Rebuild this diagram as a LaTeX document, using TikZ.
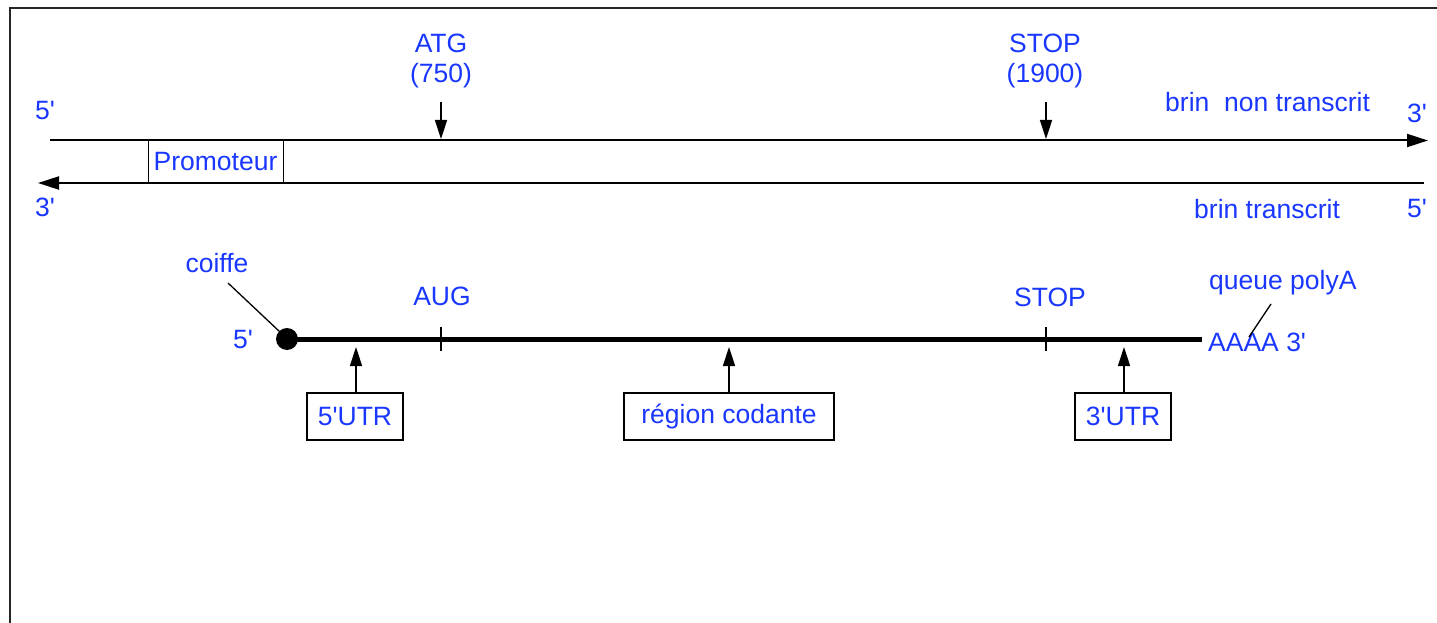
\documentclass[tikz,border=0pt]{standalone}
\usepackage{fontspec}
\setmainfont{Liberation Sans}[Ligatures=TeXOff]
\usetikzlibrary{arrows.meta}
\definecolor{lblue}{RGB}{25,55,255}
\tikzset{
  lbl/.style={text=lblue, inner sep=0pt, font=\fontsize{26.5}{31}\selectfont},
  box/.style={draw, line width=1.3pt, inner sep=0pt, text=lblue, font=\fontsize{26.5}{31}\selectfont},
  strand/.style={line width=2pt},
  bigtip/.style={-{Triangle[length=21pt,width=13pt]}},
  smalltip/.style={-{Triangle[length=19pt,width=12pt]}, line width=1.5pt},
}
\begin{document}
\begin{tikzpicture}[x=1pt,y=-1pt]
\useasboundingbox (0,0) rectangle (1437,623);
% frame
\draw[line width=2.5pt, black!85] (10,623) -- (10,8) -- (1437,8);
% strands
\coordinate (ts) at (50,140.5);
\coordinate (te) at (1428,140.5);
\coordinate (bs) at (1424,183);
\coordinate (be) at (38,183);
\draw[strand, bigtip] (ts) -- (te);
\draw[strand, bigtip] (bs) -- (be);
\node[box, line width=1pt, minimum width=135pt, minimum height=42.5pt, text=lblue] (prom) at (215.5,161.75) {Promoteur};
% end labels
\node[lbl, anchor=base] (l5a) at (45,120) {5'};
\node[lbl, anchor=base] (l3a) at (45,216) {3'};
\node[lbl, anchor=base] (r3a) at (1417,123) {3'};
\node[lbl, anchor=base] (r5a) at (1417,217) {5'};
\node[lbl, anchor=base west] (bnt) at (1165,112) {brin\ \ non transcrit};
\node[lbl, anchor=base west] (bt) at (1194,218) {brin transcrit};
% ATG / STOP on DNA
\node[lbl, anchor=base] (atg) at (441,53) {ATG};
\node[lbl, anchor=base] (atgn) at (441,83) {(750)};
\node[lbl, anchor=base] (stp) at (1045,53) {STOP};
\node[lbl, anchor=base] (stpn) at (1045,83) {(1900)};
\coordinate (atgs) at (441,102);
\coordinate (atgt) at (441,139);
\coordinate (stps) at (1046,102);
\coordinate (stpt) at (1046,139);
\draw[smalltip] (atgs) -- (atgt);
\draw[smalltip] (stps) -- (stpt);
% mRNA
\coordinate (ms) at (287,339);
\coordinate (me) at (1202,339);
\draw[line width=5pt] (ms) -- (me);
\fill (ms) circle (11pt);
\draw[line width=1.5pt] (441,327) -- (441,351);
\draw[line width=1.5pt] (1046,327) -- (1046,351);
\node[lbl, anchor=base] (aug) at (442,305) {AUG};
\node[lbl, anchor=base] (stm) at (1050,306.5) {STOP};
\node[lbl, anchor=base] (m5) at (243,348) {5'};
\node[lbl, anchor=base] (coiffe) at (217,272) {coiffe};
\coordinate (cf1) at (228,283);
\coordinate (cf2) at (280,332);
\draw[line width=1.3pt] (cf1) -- (cf2);
\node[lbl, anchor=base west] (qpa) at (1209,289) {queue polyA};
\node[lbl, anchor=base west] (aaaa) at (1208,351) {AAAA 3'};
\coordinate (qp1) at (1271,304);
\coordinate (qp2) at (1249,337);
\draw[line width=1.3pt] (qp1) -- (qp2);
% boxes
\node[box, minimum width=96pt, minimum height=47pt] (u5) at (355,416.5) {5'UTR};
\node[box, minimum width=210pt, minimum height=47pt] (rc) at (729,416.5) {région codante};
\node[box, minimum width=96pt, minimum height=47pt] (u3) at (1123,416.5) {3'UTR};
\draw[smalltip] (u5.north -| 356,0) -- (356,347);
\draw[smalltip] (rc.north) -- (729,347);
\draw[smalltip] (u3.north -| 1124,0) -- (1124,347);
\end{tikzpicture}
\end{document}
